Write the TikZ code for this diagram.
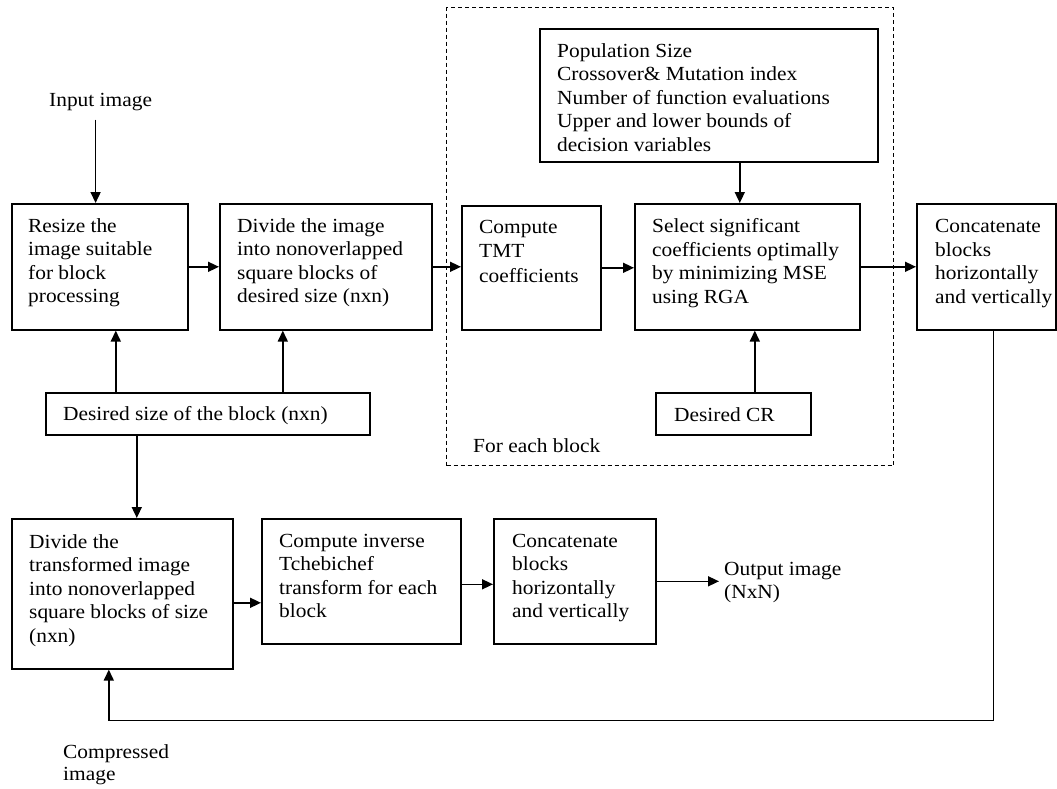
\documentclass[tikz,border=0pt]{standalone}
\usepackage{fontspec}
\setmainfont[FakeStretch=1.07]{Liberation Serif}
\usetikzlibrary{arrows.meta,calc}
\begin{document}
\begin{tikzpicture}[x=1pt,y=-1pt,
  box/.style={draw, line width=1.6pt, inner sep=0pt, anchor=north west},
  txt/.style={inner sep=0pt, anchor=base west, align=left, font=\fontsize{20}{23.5}\selectfont},
  arr/.style={line width=1.6pt, -{Triangle[length=11pt,width=10pt]}},
  dashbox/.style={draw, line width=1.1pt, dash pattern=on 4pt off 3pt, inner sep=0pt, anchor=north west}]
\useasboundingbox (0,0) rectangle (1057,788);

% dashed frame
\node[dashbox, minimum width=447, minimum height=458] (frame) at (446,7) {};
\node[txt] (each) at (473,452) {For each block};

% boxes (text nodes are placed by the baseline of their last line)
\node[box, minimum width=176, minimum height=126] (b1) at (11,203) {};
\node[txt] (b1t) at (28,302.5) {Resize the\\image suitable\\for block\\processing};
\node[box, minimum width=212, minimum height=126] (b2) at (219,203) {};
\node[txt] (b2t) at (237,302.5) {Divide the image\\into nonoverlapped\\square blocks of\\desired size (nxn)};
\node[box, minimum width=338, minimum height=133] (par) at (539,28) {};
\node[txt] (part) at (557,151) {Population Size\\Crossover\& Mutation index\\Number of function evaluations\\Upper and lower bounds of\\decision variables};
\node[box, minimum width=139, minimum height=124] (tmt) at (461,205) {};
\node[txt, font=\fontsize{20}{24.5}\selectfont] (tmtt) at (479,282) {Compute\\TMT\\coefficients};
\node[box, minimum width=225, minimum height=126] (sel) at (634,203) {};
\node[txt] (selt) at (652,303) {Select significant\\coefficients optimally\\by minimizing MSE\\using RGA};
\node[box, minimum width=139, minimum height=126] (cat1) at (916,203) {};
\node[txt] (cat1t) at (935,303) {Concatenate\\blocks\\horizontally\\and vertically};
\node[box, minimum width=155, minimum height=42] (cr) at (655,392) {};
\node[txt] (crt) at (674,421) {Desired CR};
\node[box, minimum width=324, minimum height=42] (des) at (45,392) {};
\node[txt] (dest) at (63,420) {Desired size of the block (nxn)};
\node[box, minimum width=221, minimum height=150] (lb1) at (11,518) {};
\node[txt] (lb1t) at (29,642) {Divide the\\transformed image\\into nonoverlapped\\square blocks of size\\(nxn)};
\node[box, minimum width=199, minimum height=125] (inv) at (261,518) {};
\node[txt] (invt) at (279,617.5) {Compute inverse\\Tchebichef\\transform for each\\block};
\node[box, minimum width=162, minimum height=125] (cat2) at (493,518) {};
\node[txt] (cat2t) at (512,617.5) {Concatenate\\blocks\\horizontally\\and vertically};

% free labels
\node[txt] (inlbl) at (49,106) {Input image};
\node[txt, font=\fontsize{20}{23}\selectfont] (outlbl) at (724,598) {Output image\\(NxN)};
\node[txt, font=\fontsize{20}{22}\selectfont] (comp) at (63,780) {Compressed\\image};

% helper coordinates
\coordinate (inA) at ([xshift=-5pt,yshift=-9pt]inlbl.south);
\coordinate (d1) at ([xshift=16pt]b1.south);
\coordinate (d2) at ([xshift=-43pt]b2.south);
\coordinate (d3) at ([xshift=14.5pt]lb1.north);
\coordinate (pA) at ([xshift=-7.5pt]sel.north);
\coordinate (cA) at ([xshift=7.5pt]sel.south);
\coordinate (rb) at ([xshift=-13.5pt]lb1.south);
\coordinate (rc) at ([xshift=7pt]cat1.south);

% connectors
\draw[arr] (inA) -- (inA |- b1.north);
\draw[arr] (b1.east) -- (b1.east -| b2.west);
\draw[arr] (b2.east) -- (b2.east -| tmt.west);
\draw[arr] (tmt.east) -- (tmt.east -| sel.west);
\draw[arr] (sel.east) -- (sel.east -| cat1.west);
\draw[arr] (pA |- par.south) -- (pA);
\draw[arr] (cA |- cr.north) -- (cA);
\draw[arr] (d1 |- des.north) -- (d1);
\draw[arr] (d2 |- des.north) -- (d2);
\draw[arr] (d3 |- des.south) -- (d3);
\draw[arr] ([yshift=-9pt]lb1.east) -- ([yshift=-9pt]lb1.east -| inv.west);
\draw[arr] ([yshift=-3pt]inv.east) -- ([yshift=-3pt]inv.east -| cat2.west);
\draw[arr, shorten >=5pt] (cat2.east) -- (cat2.east -| outlbl.west);
\draw[arr] (rc) -- ++(0,390) -| (rb);
\end{tikzpicture}
\end{document}
